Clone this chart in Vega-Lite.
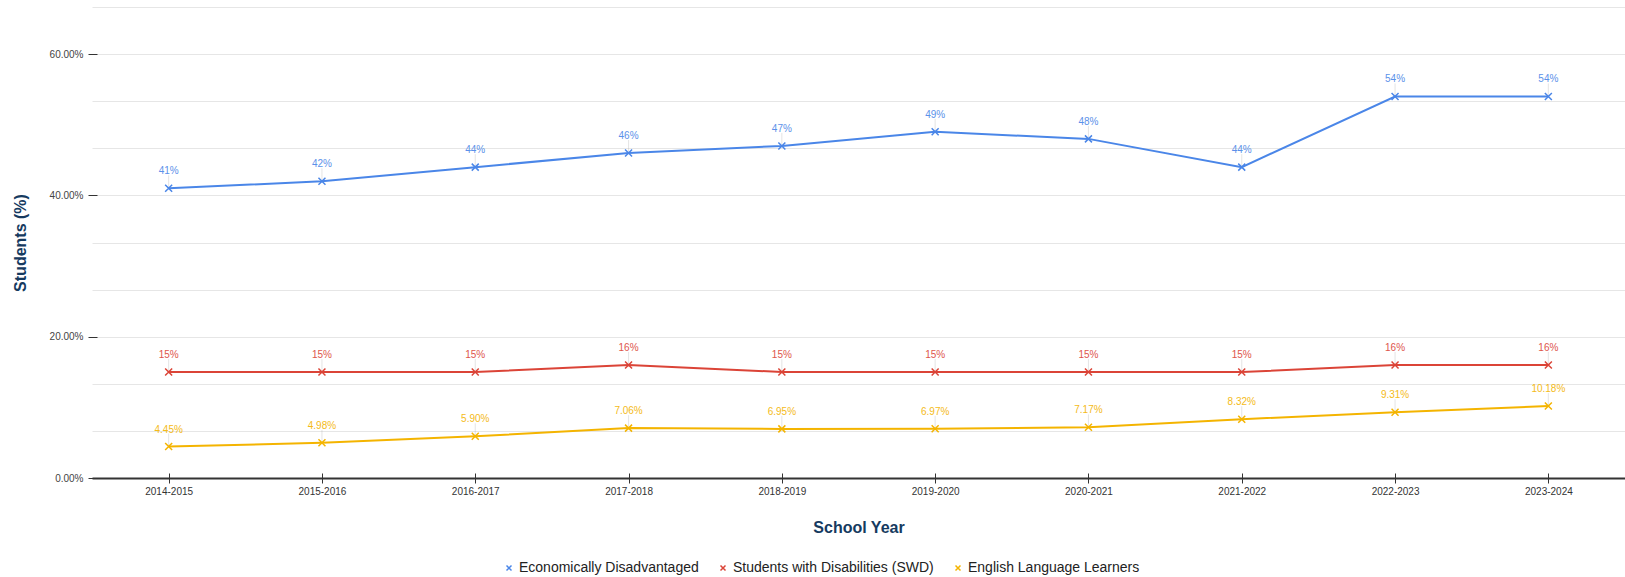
{
  "$schema": "https://vega.github.io/schema/vega-lite/v6.json",
  "width": 1533,
  "height": 471,
  "autosize": {"type": "none"},
  "padding": {"left": 92, "top": 7, "right": 0, "bottom": 99},
  "background": "white",
  "config": {
    "font": "Liberation Sans",
    "view": {"stroke": null}
  },
  "data": {
    "values": [
      {"year": "2014-2015", "group": "Economically Disadvantaged", "value": 41},
      {"year": "2015-2016", "group": "Economically Disadvantaged", "value": 42},
      {"year": "2016-2017", "group": "Economically Disadvantaged", "value": 44},
      {"year": "2017-2018", "group": "Economically Disadvantaged", "value": 46},
      {"year": "2018-2019", "group": "Economically Disadvantaged", "value": 47},
      {"year": "2019-2020", "group": "Economically Disadvantaged", "value": 49},
      {"year": "2020-2021", "group": "Economically Disadvantaged", "value": 48},
      {"year": "2021-2022", "group": "Economically Disadvantaged", "value": 44},
      {"year": "2022-2023", "group": "Economically Disadvantaged", "value": 54},
      {"year": "2023-2024", "group": "Economically Disadvantaged", "value": 54},
      {"year": "2014-2015", "group": "Students with Disabilities (SWD)", "value": 15},
      {"year": "2015-2016", "group": "Students with Disabilities (SWD)", "value": 15},
      {"year": "2016-2017", "group": "Students with Disabilities (SWD)", "value": 15},
      {"year": "2017-2018", "group": "Students with Disabilities (SWD)", "value": 16},
      {"year": "2018-2019", "group": "Students with Disabilities (SWD)", "value": 15},
      {"year": "2019-2020", "group": "Students with Disabilities (SWD)", "value": 15},
      {"year": "2020-2021", "group": "Students with Disabilities (SWD)", "value": 15},
      {"year": "2021-2022", "group": "Students with Disabilities (SWD)", "value": 15},
      {"year": "2022-2023", "group": "Students with Disabilities (SWD)", "value": 16},
      {"year": "2023-2024", "group": "Students with Disabilities (SWD)", "value": 16},
      {"year": "2014-2015", "group": "English Language Learners", "value": 4.45},
      {"year": "2015-2016", "group": "English Language Learners", "value": 4.98},
      {"year": "2016-2017", "group": "English Language Learners", "value": 5.90},
      {"year": "2017-2018", "group": "English Language Learners", "value": 7.06},
      {"year": "2018-2019", "group": "English Language Learners", "value": 6.95},
      {"year": "2019-2020", "group": "English Language Learners", "value": 6.97},
      {"year": "2020-2021", "group": "English Language Learners", "value": 7.17},
      {"year": "2021-2022", "group": "English Language Learners", "value": 8.32},
      {"year": "2022-2023", "group": "English Language Learners", "value": 9.31},
      {"year": "2023-2024", "group": "English Language Learners", "value": 10.18}
    ]
  },
  "encoding": {
    "x": {
      "field": "year",
      "type": "ordinal",
      "sort": null,
      "scale": {"type": "point", "padding": 0.5},
      "axis": {
        "title": "School Year",
        "titleFontSize": 16,
        "titleFontWeight": "bold",
        "titleColor": "#163a5f",
        "titlePadding": 23,
        "labelAngle": 0,
        "labelFontSize": 10,
        "labelColor": "#333333",
        "labelPadding": 3,
        "offset": -5,
        "domain": false,
        "tickSize": 10,
        "tickColor": "#333333",
        "grid": false
      }
    },
    "y": {
      "field": "value",
      "type": "quantitative",
      "scale": {"domain": [0, 66.666667], "nice": false, "zero": true},
      "axis": {
        "title": "Students (%)",
        "titleFontSize": 16,
        "titleFontWeight": "bold",
        "titleColor": "#163a5f",
        "titlePadding": 21,
        "values": [0, 6.666667, 13.333333, 20, 26.666667, 33.333333, 40, 46.666667, 53.333333, 60, 66.666667],
        "labelExpr": "datum.value % 20 === 0 ? format(datum.value, '.2f') + '%' : ''",
        "labelOverlap": false,
        "labelFontSize": 10,
        "labelColor": "#444444",
        "labelPadding": 5,
        "offset": -5,
        "domain": false,
        "tickSize": 9,
        "tickColor": "#333333",
        "tickOpacity": {"condition": {"test": "datum.value % 20 === 0", "value": 1}, "value": 0},
        "grid": true,
        "gridColor": {"condition": {"test": "datum.value === 0", "value": "#333333"}, "value": "#e6e6e6"},
        "gridWidth": {"condition": {"test": "datum.value === 0", "value": 2}, "value": 1}
      }
    },
    "color": {
      "field": "group",
      "type": "nominal",
      "sort": null,
      "scale": {
        "domain": ["Economically Disadvantaged", "Students with Disabilities (SWD)", "English Language Learners"],
        "range": ["#4a86e8", "#db4437", "#f4b400"]
      },
      "legend": {
        "title": null,
        "orient": "none",
        "direction": "horizontal",
        "legendX": 410,
        "legendY": 554,
        "labelFontSize": 14,
        "labelLimit": 0,
        "labelColor": "#222222",
        "symbolType": "M-1,-1L1,1M-1,1L1,-1",
        "symbolSize": 25,
        "symbolStrokeWidth": 1.5,
        "symbolFillColor": "transparent",
        "columnPadding": 17,
        "labelOffset": 3
      }
    }
  },
  "layer": [
    {
      "mark": {"type": "rule", "y2Offset": -13, "strokeWidth": 1, "opacity": 0.25},
      "encoding": {"y2": {"field": "value"}, "color": {"value": "#999999"}}
    },
    {
      "mark": {"type": "line", "strokeWidth": 2}
    },
    {
      "mark": {"type": "point", "shape": "M-1,-1L1,1M-1,1L1,-1", "filled": false, "size": 49, "strokeWidth": 1.5, "opacity": 1}
    },
    {
      "transform": [
        {"calculate": "datum.group === 'English Language Learners' ? format(datum.value, '.2f') + '%' : format(datum.value, '.0f') + '%'", "as": "label"}
      ],
      "mark": {"type": "text", "dy": -12, "baseline": "bottom", "fontSize": 10, "opacity": 0.9},
      "encoding": {"text": {"field": "label"}}
    }
  ]
}
